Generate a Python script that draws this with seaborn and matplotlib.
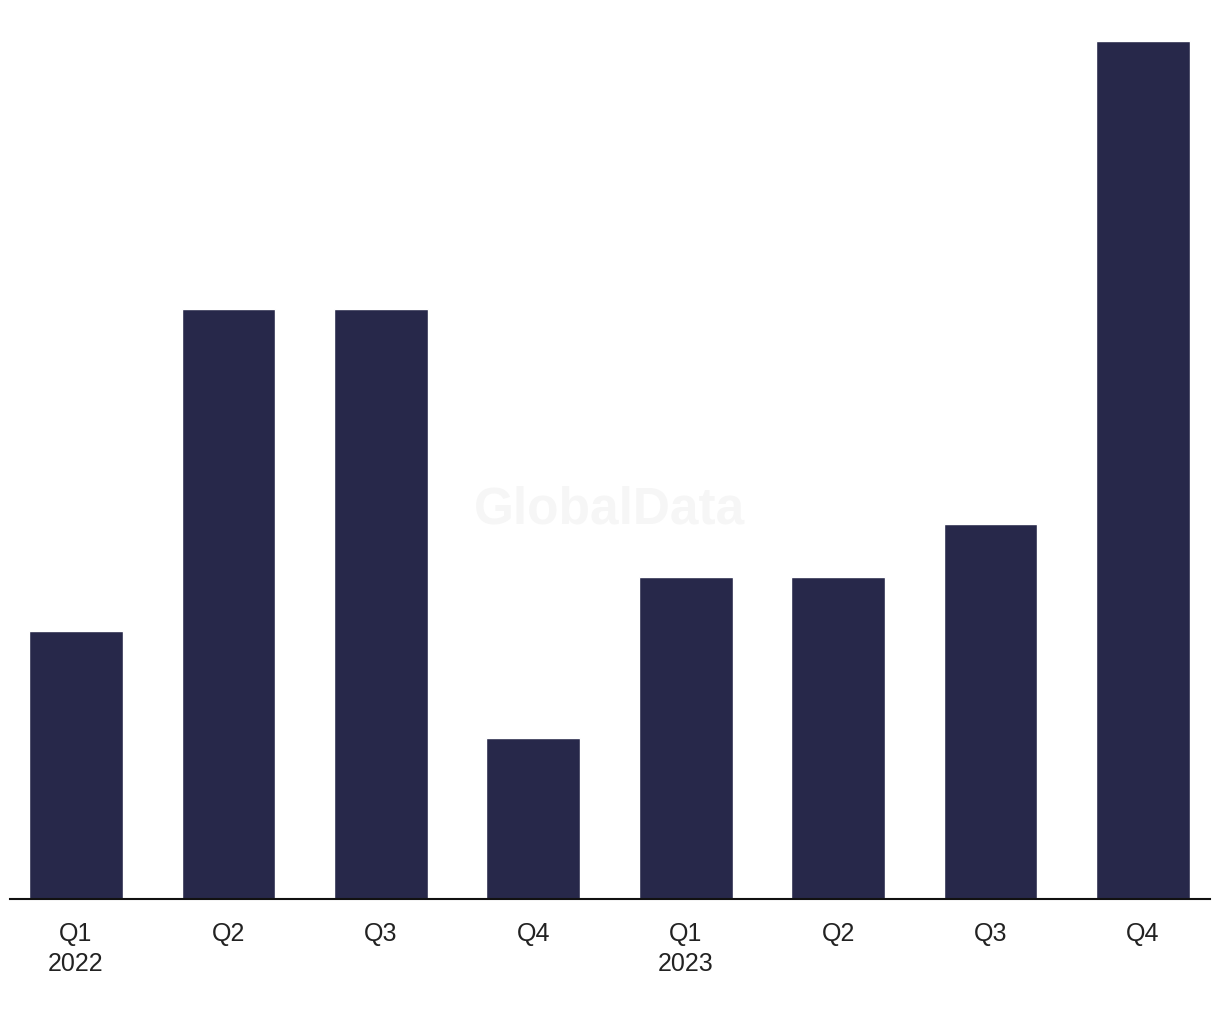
import matplotlib
matplotlib.use("Agg")
import matplotlib.pyplot as plt
import seaborn as sns
import pandas as pd

# Data
quarters = ["Q1 2022", "Q2 2022", "Q3 2022", "Q4 2022",
            "Q1 2023", "Q2 2023", "Q3 2023", "Q4 2023"]
tick_labels = ["Q1\n2022", "Q2", "Q3", "Q4", "Q1\n2023", "Q2", "Q3", "Q4"]
values = [5, 11, 11, 3, 6, 6, 7, 16]

df = pd.DataFrame({"quarter": quarters, "value": values})

sns.set_style("white")
plt.rcParams["font.family"] = ["Liberation Sans", "DejaVu Sans"]

fig = plt.figure(figsize=(12.2, 10.2), dpi=100)
ax = fig.add_axes([10 / 1220, 120 / 1020, 1200 / 1220, 900 / 1020])

sns.barplot(data=df, x="quarter", y="value", color="#27284a",
            saturation=1, width=0.615, ax=ax)

ax.set_xlim(-0.433, 7.44)
ax.set_ylim(0, 16.79)

# faint watermark
ax.text(0.5, 0.433, "GlobalData", transform=ax.transAxes, ha="center",
        va="center", fontsize=37, fontweight="bold", color="#f6f6f6", zorder=0)

ax.set_xticks(range(len(quarters)))
ax.set_xticklabels(tick_labels, fontsize=18, color="#222222", linespacing=1.3)
ax.tick_params(axis="x", length=0, pad=16)
ax.set_yticks([])
ax.set_xlabel("")
ax.set_ylabel("")
for s in ["top", "right", "left"]:
    ax.spines[s].set_visible(False)
ax.spines["bottom"].set_color("#111111")
ax.spines["bottom"].set_linewidth(1.5)

fig.savefig("out.png", dpi=100)
